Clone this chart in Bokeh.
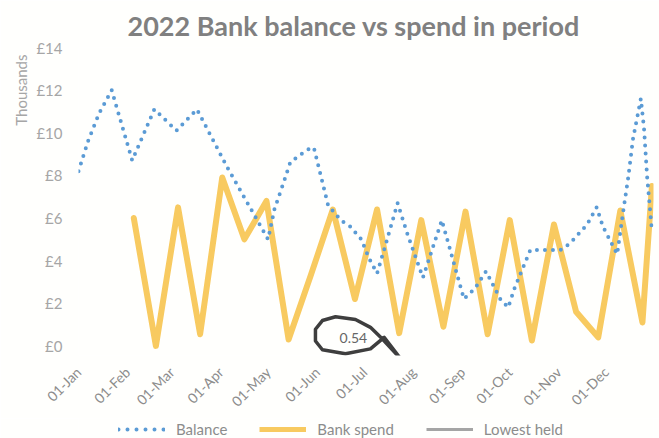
import datetime as dt
import math
from bokeh.plotting import figure
from bokeh.layouts import column
from bokeh.models import (Range1d, FixedTicker, DatetimeTickFormatter, PrintfTickFormatter,
                          Legend, LegendItem, Label, PolyAnnotation, Title)
from bokeh.embed import file_html
from bokeh.resources import INLINE

# ---- data (values in £ thousands) ----
balance_dates = ["2022-01-01", "2022-01-07", "2022-01-14", "2022-01-22", "2022-02-04", "2022-02-18",
                 "2022-03-04", "2022-03-17", "2022-04-05", "2022-05-01", "2022-05-05", "2022-05-11",
                 "2022-05-15", "2022-05-20", "2022-05-28", "2022-05-30", "2022-06-08", "2022-06-16",
                 "2022-06-22", "2022-06-29", "2022-07-04", "2022-07-09", "2022-07-15", "2022-07-22",
                 "2022-07-28", "2022-08-07", "2022-08-19", "2022-09-02", "2022-09-09", "2022-09-16",
                 "2022-09-25", "2022-09-30", "2022-10-04", "2022-10-09", "2022-10-14", "2022-11-02",
                 "2022-11-08", "2022-11-19", "2022-11-25", "2022-11-29", "2022-12-08", "2022-12-12",
                 "2022-12-15", "2022-12-18", "2022-12-23", "2022-12-25", "2022-12-27", "2022-12-30"]
balance_values = [8.2, 9.6, 10.9, 12.0, 8.7, 11.1,
                  10.1, 11.1, 8.4, 5.0, 6.4, 7.7,
                  8.6, 8.9, 9.3, 9.3, 6.6, 5.9,
                  5.6, 5.0, 4.1, 3.4, 4.9, 6.7,
                  5.3, 3.2, 5.9, 2.2, 2.7, 3.5,
                  2.2, 1.8, 2.7, 3.6, 4.5, 4.5,
                  4.8, 5.7, 6.5, 5.6, 4.3, 6.4,
                  7.9, 9.7, 11.6, 10.2, 7.9, 5.4]

spend_dates = ["2022-02-05", "2022-02-19", "2022-03-05", "2022-03-19", "2022-04-02", "2022-04-16",
               "2022-04-30", "2022-05-14", "2022-05-28", "2022-06-11", "2022-06-25", "2022-07-09",
               "2022-07-23", "2022-08-06", "2022-08-20", "2022-09-03", "2022-09-17", "2022-10-01",
               "2022-10-15", "2022-10-29", "2022-11-12", "2022-11-26", "2022-12-10", "2022-12-24",
               "2022-12-30"]
spend_values = [6.0, 0.0, 6.5, 0.55, 7.9, 5.0,
                6.8, 0.3, 3.3, 6.4, 2.2, 6.4,
                0.6, 5.9, 0.9, 6.3, 0.55, 5.9,
                0.25, 5.7, 1.6, 0.4, 6.35, 1.1,
                7.5]

lowest_dates = ["2022-06-24"]
lowest_values = [0.54]
lowest_label = ["0.54"]

series_names = ["Balance", "Bank spend", "Lowest held"]
month_ticks = ["2022-01-01", "2022-02-01", "2022-03-01", "2022-04-01", "2022-05-01", "2022-06-01",
               "2022-07-01", "2022-08-01", "2022-09-01", "2022-10-01", "2022-11-01", "2022-12-01"]
y_ticks = [0, 2, 4, 6, 8, 10, 12, 14]

# hand-drawn pen stroke on the photographed page (days from 1 Jan, £ thousands)
pen_days = [192.4, 184.8, 175.3, 162.7, 154.4, 150.0, 150.0, 154.4, 169.0, 184.8, 193.5,
            203.8, 216.5, 225.9, 231.0, 225.9, 216.5, 203.8]
pen_vals = [0.32, 0.87, 1.24, 1.37, 1.19, 0.78, 0.23, -0.18, -0.37, -0.14, 0.40,
            -0.59, -1.51, -2.42, -3.57, -2.42, -1.51, -0.59]

FONT = "Lato"
EPOCH = dt.datetime(1970, 1, 1)
BG = "#FFFFFD"
BAL_COLOR = "#5B9BD5"
SPEND_COLOR = "#F8CA60"
LOW_COLOR = "#A5A5A5"


def d(s):
    return dt.datetime.strptime(s, "%Y-%m-%d")


def ms(t):
    return (t - EPOCH).total_seconds() * 1000.0


p = figure(width=659, height=418, x_axis_type="datetime", output_backend="svg",
           toolbar_location=None, min_border_left=78, min_border_right=6,
           min_border_top=46, min_border_bottom=56,
           x_range=Range1d(d("2022-01-01"), d("2022-12-31")), y_range=Range1d(-0.45, 14))
p.background_fill_color = BG
p.border_fill_color = BG
p.outline_line_color = None
p.grid.grid_line_color = None

p.title.text = "2022 Bank balance vs spend in period"
p.title.text_font = FONT
p.title.text_font_size = "27px"
p.title.text_font_style = "bold"
p.title.text_color = "#808080"
p.title.align = "left"
p.title.offset = 49
p.title.standoff = 12

# axes
p.yaxis.ticker = FixedTicker(ticks=y_ticks)
p.yaxis.formatter = PrintfTickFormatter(format="£%d")
p.yaxis.axis_line_color = None
p.yaxis.major_tick_line_color = None
p.yaxis.minor_tick_line_color = None
p.yaxis.major_tick_out = 0
p.yaxis.major_tick_in = 0
p.yaxis.major_label_standoff = 16
p.yaxis.major_label_text_font = FONT
p.yaxis.major_label_text_font_size = "15px"
p.yaxis.major_label_text_color = "#a6a6a6"

p.add_layout(Title(text="Thousands", align="right", text_font=FONT, text_font_size="15px",
                   text_font_style="normal", text_color="#a6a6a6", standoff=8, offset=7),
             "left")

p.xaxis.ticker = FixedTicker(ticks=[ms(d(t)) for t in month_ticks])
fmt = "%d-%b"
p.xaxis.formatter = DatetimeTickFormatter(days=fmt, months=fmt, years=fmt, hours=fmt,
                                          minutes=fmt, seconds=fmt, milliseconds=fmt,
                                          minsec=fmt, hourmin=fmt)
p.xaxis.axis_line_color = None
p.xaxis.major_tick_line_color = None
p.xaxis.minor_tick_line_color = None
p.xaxis.major_tick_out = 0
p.xaxis.major_tick_in = 0
p.xaxis.major_label_orientation = math.pi / 4
p.xaxis.major_label_standoff = 14
p.xaxis.major_label_text_font = FONT
p.xaxis.major_label_text_font_size = "14px"
p.xaxis.major_label_text_color = "#8c8c8c"

# series
r_spend = p.line([d(t) for t in spend_dates], spend_values, line_color=SPEND_COLOR,
                 line_width=6, line_join="round", line_cap="round")
r_bal = p.line([d(t) for t in balance_dates], balance_values, line_color=BAL_COLOR,
               line_width=4, line_dash="0 8", line_cap="round", line_join="round")
r_low = p.line([d(t) for t in lowest_dates], lowest_values, line_color=LOW_COLOR,
               line_width=3)

for t, v, txt in zip(lowest_dates, lowest_values, lowest_label):
    p.add_layout(Label(x=ms(d(t)), y=v, text=txt, text_align="center",
                       text_baseline="middle", y_offset=-4, text_font=FONT,
                       text_font_size="14px", text_color="#666666"))

# pen stroke
base = d("2022-01-01")
p.add_layout(PolyAnnotation(xs=[ms(base + dt.timedelta(days=x)) for x in pen_days], ys=pen_vals,
                            fill_alpha=0, line_color="#3e3e3e", line_alpha=1.0,
                            line_width=3.5, line_join="round"))

# legend strip below the chart (its frame is aligned with the chart frame by the column)
leg = figure(width=659, height=20, output_backend="svg", toolbar_location=None,
             x_axis_location=None, y_axis_location=None, x_axis_type="datetime",
             x_range=Range1d(d("2022-01-01"), d("2022-12-31")), y_range=Range1d(100, 101),
             min_border_left=78, min_border_right=6, min_border_top=0, min_border_bottom=0)
leg.grid.grid_line_color = None
leg.outline_line_color = None
leg.background_fill_color = BG
leg.border_fill_color = BG
g_bal = leg.line([d(t) for t in balance_dates], balance_values, line_color=BAL_COLOR,
                 line_width=4, line_dash="0 9", line_cap="round")
g_spend = leg.line([d(t) for t in spend_dates], spend_values, line_color=SPEND_COLOR,
                   line_width=5)
g_low = leg.line([d(t) for t in lowest_dates], lowest_values, line_color=LOW_COLOR,
                 line_width=3)

legend = Legend(items=[LegendItem(label=n, renderers=[r])
                       for n, r in zip(series_names, [g_bal, g_spend, g_low])],
                orientation="horizontal", location=(40, 0))
legend.border_line_color = None
legend.background_fill_alpha = 0
legend.label_text_font = FONT
legend.label_text_font_size = "15px"
legend.label_text_color = "#8c8c8c"
legend.glyph_width = 47
legend.glyph_height = 16
legend.spacing = 32
legend.padding = 0
legend.margin = 0
legend.label_standoff = 11
leg.add_layout(legend)

page = column(p, leg, spacing=0)
open("out.html", "w").write(file_html(page, INLINE))
